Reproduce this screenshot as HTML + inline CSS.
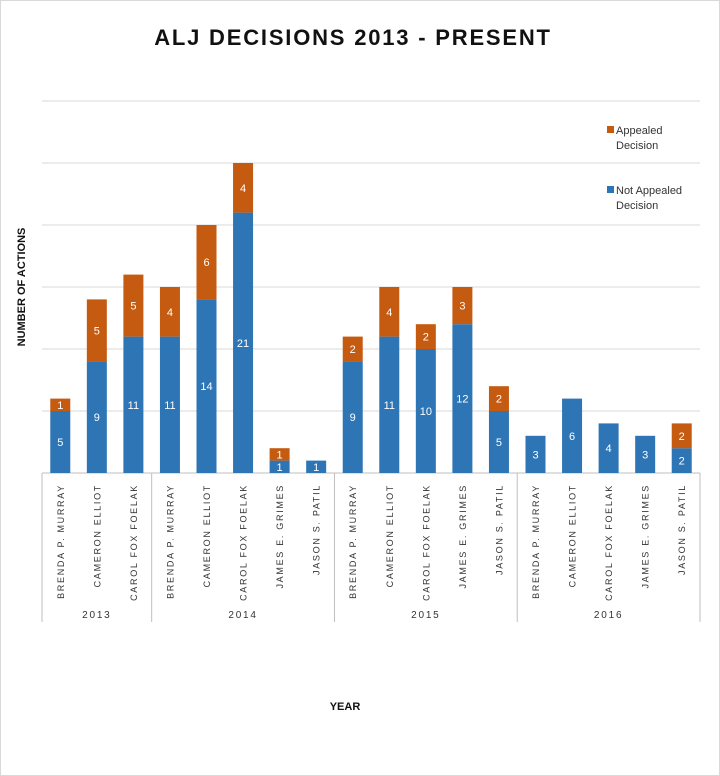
<!DOCTYPE html>
<html><head><meta charset="utf-8"><style>
body{margin:0;background:#fff;}
svg{display:block;font-family:"Liberation Sans",Calibri,sans-serif;}
</style></head><body>
<svg id="chart" width="720" height="776">
<rect x="0.5" y="0.5" width="719" height="775" fill="#fff" stroke="#d9d9d9"/>
<text x="353" y="45" text-anchor="middle" font-size="22" font-weight="bold" letter-spacing="1.8" fill="#111">ALJ DECISIONS 2013 - PRESENT</text>
<text transform="translate(25,287) rotate(-90)" text-anchor="middle" font-size="11" font-weight="bold" fill="#111">NUMBER OF ACTIONS</text>
<text x="345" y="710" text-anchor="middle" font-size="11" font-weight="bold" fill="#111">YEAR</text>
<g id="grid"></g><g id="bars"></g><g id="xaxis"></g>
<g>
<rect x="607" y="126" width="7" height="7" fill="#C55A11"/>
<text x="616" y="134" font-size="11" fill="#333">Appealed</text>
<text x="616" y="149" font-size="11" fill="#333">Decision</text>
<rect x="607" y="186" width="7" height="7" fill="#2E75B6"/>
<text x="616" y="194" font-size="11" fill="#333">Not Appealed</text>
<text x="616" y="209" font-size="11" fill="#333">Decision</text>
</g>
</svg>
<script>
const years = ["2013","2014","2015","2016"];
const judges = [
["BRENDA P. MURRAY","CAMERON ELLIOT","CAROL FOX FOELAK"],
["BRENDA P. MURRAY","CAMERON ELLIOT","CAROL FOX FOELAK","JAMES E. GRIMES","JASON S. PATIL"],
["BRENDA P. MURRAY","CAMERON ELLIOT","CAROL FOX FOELAK","JAMES E. GRIMES","JASON S. PATIL"],
["BRENDA P. MURRAY","CAMERON ELLIOT","CAROL FOX FOELAK","JAMES E. GRIMES","JASON S. PATIL"]];
const notAppealed = [5,9,11, 11,14,21,1,1, 9,11,10,12,5, 3,6,4,3,2];
const appealed = [1,5,5, 4,6,4,1,0, 2,4,2,3,2, 0,0,0,0,2];
const yTicks = [0,5,10,15,20,25,30];

const NS="http://www.w3.org/2000/svg";
const X0=42,X1=700,BASE=473,PPU=12.4;
const n=notAppealed.length, cw=(X1-X0)/n, bw=20;
const y=v=>BASE-v*PPU;
const xc=i=>X0+cw*(i+0.5);
function mk(t,a,p){const e=document.createElementNS(NS,t);for(const k in a)e.setAttribute(k,a[k]);p.appendChild(e);return e;}
const grid=document.getElementById('grid'),bars=document.getElementById('bars'),xa=document.getElementById('xaxis');
yTicks.forEach(v=>{
 const l=mk('line',{x1:X0,x2:X1,y1:y(v),y2:y(v),stroke:v===0?'#bfbfbf':'#d9d9d9','stroke-width':1},grid);
 
 
});
for(let i=0;i<n;i++){
 const a=notAppealed[i],b=appealed[i];
 const r=mk('rect',{x:xc(i)-bw/2,y:y(a),width:bw,height:a*PPU,fill:'#2E75B6'},bars);
 
 
 const t=mk('text',{x:xc(i),y:y(a/2)+4,'text-anchor':'middle','font-size':11,fill:'#fff'},bars);
 t.textContent=a;
 
 
 if(b>0){
  const r2=mk('rect',{x:xc(i)-bw/2,y:y(a+b),width:bw,height:b*PPU,fill:'#C55A11'},bars);
  
  
  const t2=mk('text',{x:xc(i),y:y(a+b/2)+4,'text-anchor':'middle','font-size':11,fill:'#fff'},bars);
  t2.textContent=b;
  
  
 }
}
let idx=0;
const sep=xx=>{const l=mk('line',{x1:xx,x2:xx,y1:BASE,y2:622,stroke:'#bfbfbf'},xa);
 
 };
sep(X0);
years.forEach((yr,g)=>{
 const start=idx;
 judges[g].forEach(j=>{
  const t=mk('text',{transform:`translate(${xc(idx)+3.5},484) rotate(-90)`,'text-anchor':'end','font-size':9,'letter-spacing':1.7,fill:'#333'},xa);
  t.textContent=j;
  
  
  idx++;
 });
 const t=mk('text',{x:(X0+cw*start+X0+cw*idx)/2,y:618,'text-anchor':'middle','font-size':10,'letter-spacing':1.8,fill:'#333'},xa);
 t.textContent=yr;
 
 
 sep(X0+cw*idx);
});
</script>
</body></html>
